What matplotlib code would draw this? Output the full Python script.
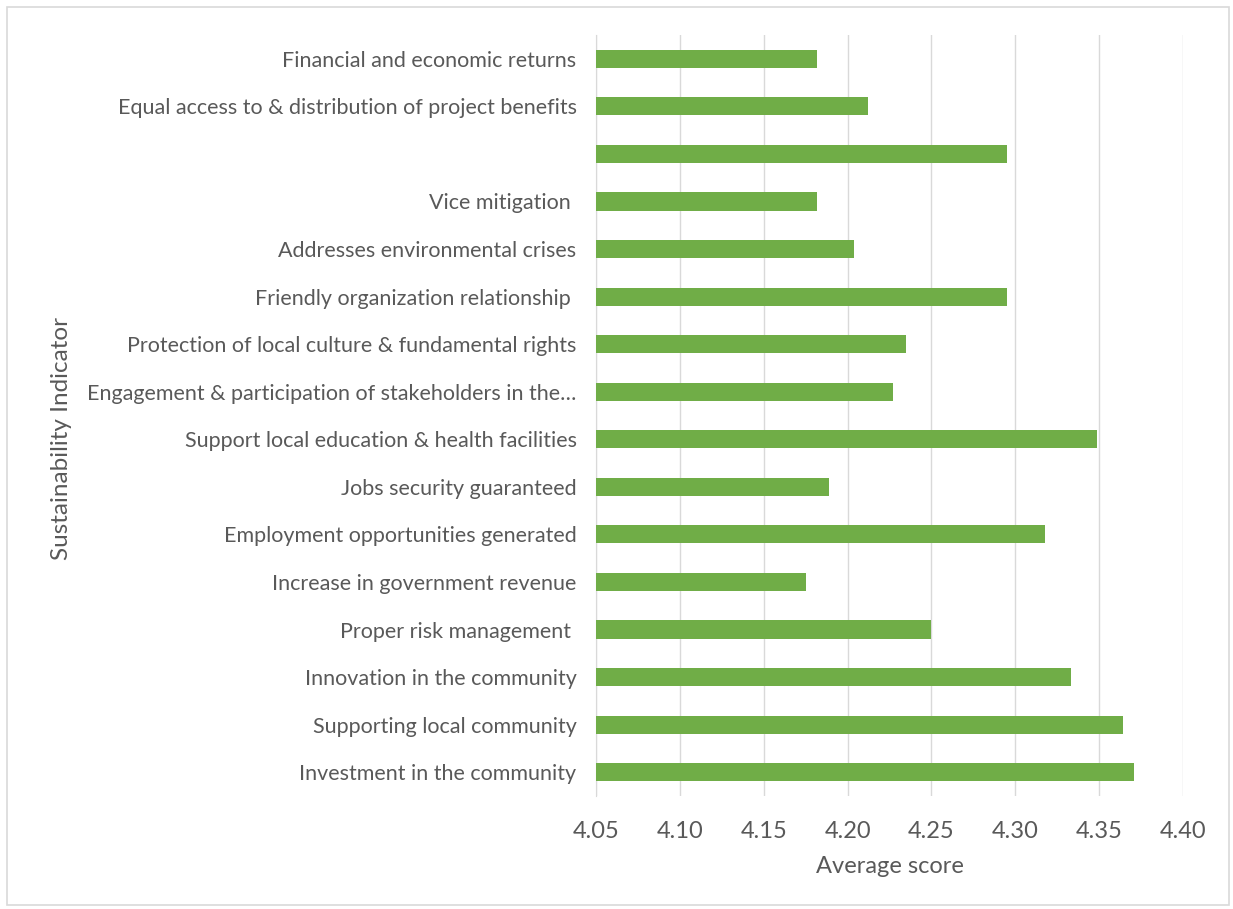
import matplotlib
matplotlib.use("Agg")
import matplotlib.pyplot as plt
from matplotlib.patches import Rectangle

categories = [
    "Investment in the community",
    "Supporting local community",
    "Innovation in the community",
    "Proper risk management ",
    "Increase in government revenue",
    "Employment opportunities generated",
    "Jobs security guaranteed",
    "Support local education & health facilities",
    "Engagement & participation of stakeholders in the\u2026",
    "Protection of local culture & fundamental rights",
    "Friendly organization relationship ",
    "Addresses environmental crises",
    "Vice mitigation ",
    "",
    "Equal access to & distribution of project benefits",
    "Financial and economic returns",
]
scores = [4.371, 4.364, 4.333, 4.250, 4.175, 4.318, 4.189, 4.349,
          4.227, 4.235, 4.295, 4.204, 4.182, 4.295, 4.212, 4.182]
xticks = [4.05, 4.10, 4.15, 4.20, 4.25, 4.30, 4.35, 4.40]

plt.rcParams['font.family'] = ['Lato', 'DejaVu Sans']
txt = '#595959'

fig = plt.figure(figsize=(12.33, 9.09), dpi=100)
ax = fig.add_axes([596/1233, 1-796/909, (1183-596)/1233, (796-35)/909])

y = list(range(len(categories)))
ax.barh(y, [s - 4.05 for s in scores], left=4.05, height=0.38, color='#70ad47', zorder=3)
ax.set_xlim(4.05, 4.40)
ax.set_ylim(-0.5, len(categories) - 0.5)
ax.set_xticks(xticks)
ax.set_xticklabels([f"{t:.2f}" for t in xticks])
ax.set_yticks(y)
ax.set_yticklabels(categories)
ax.grid(axis='x', color='#d9d9d9', linewidth=1, zorder=0)
for s in ['top', 'right', 'bottom']:
    ax.spines[s].set_visible(False)
ax.spines['left'].set_color('#d9d9d9')
ax.tick_params(axis='both', length=0, colors=txt)
ax.tick_params(axis='y', pad=14, labelsize=15.5)
ax.tick_params(axis='x', pad=18, labelsize=17)
ax.set_xlabel("Average score", fontsize=17, color=txt, labelpad=10)
ax.set_ylabel("Sustainability Indicator", fontsize=17.5, color=txt)
ax.yaxis.set_label_coords(-(596-72)/587, 0.47)

fig.patches.append(Rectangle((7/1233, 4/909), 1222/1233, 898/909, transform=fig.transFigure,
                             fill=False, edgecolor='#d9d9d9', linewidth=1.2))
fig.savefig("out.png", dpi=100)
